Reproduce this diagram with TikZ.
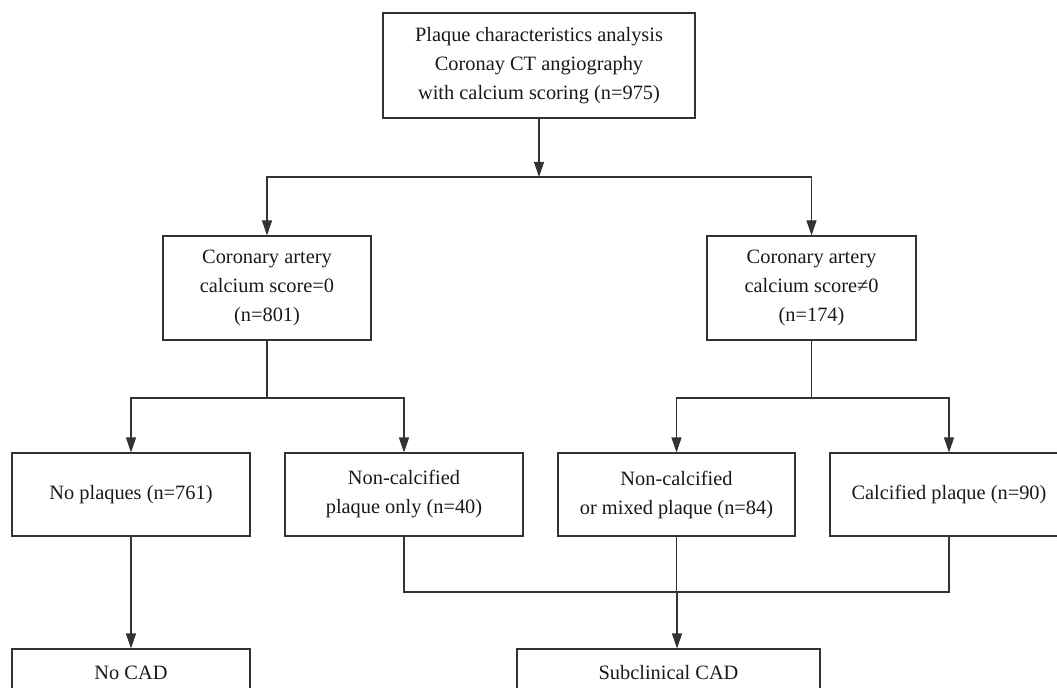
\documentclass[tikz,border=0pt]{standalone}
\usepackage{fontspec}
\setmainfont{Liberation Serif}
\usetikzlibrary{arrows.meta}

\begin{document}
\begin{tikzpicture}[x=0.02cm, y=-0.02cm,
  flowbox/.style={draw=black!80, line width=0.6pt, align=center, inner sep=2pt,
    text=black!90, font=\fontsize{11.6}{16.5}\selectfont},
  flowline/.style={draw=black!80, line width=0.6pt},
  flowarrow/.style={flowline, -{Triangle[length=3mm, width=2mm]}}]
  \useasboundingbox (0,0) rectangle (1057,688);
  \node[flowbox, minimum width=312*0.02cm, minimum height=105*0.02cm] (cta) at (539,65.5)
    {Plaque characteristics analysis\\Coronay CT angiography\\with calcium scoring (n=975)};
  \node[flowbox, minimum width=208*0.02cm, minimum height=104*0.02cm] (cac0) at (267,288)
    {Coronary artery\\calcium score=0\\(n=801)};
  \node[flowbox, minimum width=209*0.02cm, minimum height=104*0.02cm] (cacn) at (811.5,288)
    {Coronary artery\\calcium score≠0\\(n=174)};
  \node[flowbox, minimum width=238*0.02cm, minimum height=83*0.02cm] (noplq) at (131,494.5)
    {No plaques (n=761)};
  \node[flowbox, minimum width=238*0.02cm, minimum height=83*0.02cm] (ncalc) at (404,494.5)
    {Non-calcified\\plaque only (n=40)};
  \node[flowbox, minimum width=237*0.02cm, minimum height=83*0.02cm] (mixed) at (676.5,494.5)
    {Non-calcified\\or mixed plaque (n=84)};
  \node[flowbox, minimum width=238*0.02cm, minimum height=83*0.02cm] (calc) at (949,494.5)
    {Calcified plaque (n=90)};
  \node[flowbox, minimum width=238*0.02cm, minimum height=48*0.02cm] (nocad) at (131,673)
    {No CAD};
  \node[flowbox, minimum width=303*0.02cm, minimum height=48*0.02cm] (subcad) at (668.5,673)
    {Subclinical CAD};
  \coordinate (split) at (539,177);
  \coordinate (splitl) at (267,398);
  \coordinate (splitr) at (811.5,398);
  \coordinate (merge) at (677,592);
  \draw[flowarrow] (cta) -- (split);
  \draw[flowarrow] (split) -| (cac0);
  \draw[flowarrow] (split) -| (cacn);
  \draw[flowline] (cac0) -- (splitl);
  \draw[flowarrow] (splitl) -| (noplq);
  \draw[flowarrow] (splitl) -| (ncalc);
  \draw[flowline] (cacn) -- (splitr);
  \draw[flowarrow] (splitr) -| (mixed);
  \draw[flowarrow] (splitr) -| (calc);
  \draw[flowarrow] (noplq) -- (nocad);
  \draw[flowline] (ncalc.south) |- (merge);
  \draw[flowline] (calc.south) |- (merge);
  \draw[flowline] (mixed.south) -- (mixed.south |- merge);
  \draw[flowarrow] (merge) -- (merge |- subcad.north);
\end{tikzpicture}
\end{document}
